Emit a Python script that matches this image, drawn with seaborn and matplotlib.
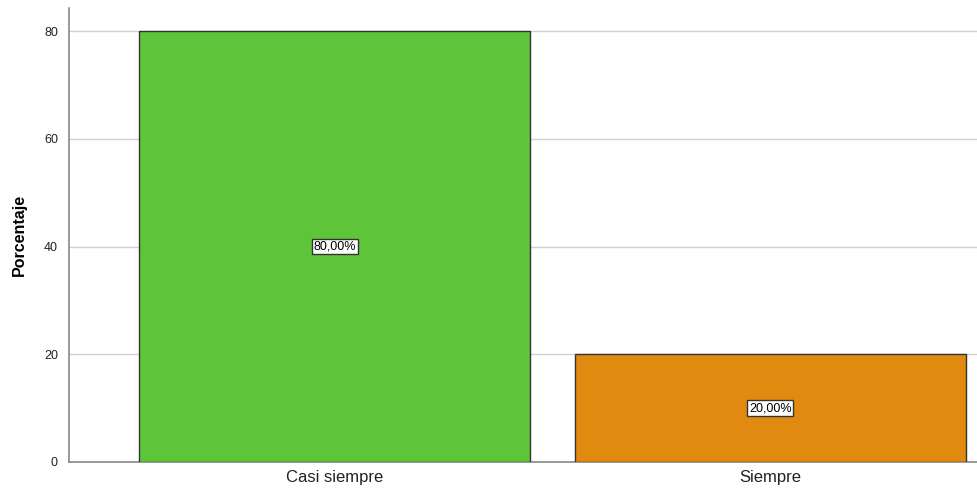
import matplotlib
matplotlib.use('Agg')
import matplotlib.pyplot as plt
import seaborn as sns
import pandas as pd

categorias = ['Casi siempre', 'Siempre']
porcentajes = [80.0, 20.0]
etiquetas = ['80,00%', '20,00%']
colores = ['#5EC43A', '#E08A10']

df = pd.DataFrame({'Categoria': categorias, 'Porcentaje': porcentajes})

sns.set_style('white')
plt.rcParams['font.family'] = ['Liberation Sans', 'DejaVu Sans']

fig = plt.figure(figsize=(9.77, 4.93), dpi=100)
ax = fig.add_axes([69 / 977, 31 / 493, 908 / 977, 454 / 493])

sns.barplot(data=df, x='Categoria', y='Porcentaje', hue='Categoria', palette=colores,
            saturation=1, width=0.898, edgecolor='#333333', linewidth=1, legend=False,
            ax=ax, zorder=3)

# porcentajes en el centro de cada barra
for i, (v, t) in enumerate(zip(porcentajes, etiquetas)):
    ax.text(i, v / 2, t, ha='center', va='center', fontsize=9, color='black', zorder=5,
            bbox=dict(boxstyle='square,pad=0.15', facecolor='white', edgecolor='#333333', linewidth=1))

ax.set_xlim(-0.61, 1.475)
ax.set_ylim(0, 84.3)
ax.set_yticks([0, 20, 40, 60, 80])
ax.yaxis.grid(True, color='#d0d0d0', linewidth=1, zorder=0)
ax.set_axisbelow(True)

for s in ['top', 'right']:
    ax.spines[s].set_visible(False)
for s in ['left', 'bottom']:
    ax.spines[s].set_color('#888888')
    ax.spines[s].set_linewidth(1.2)

ax.tick_params(axis='y', length=0, labelsize=9, colors='#222222', pad=8)
ax.tick_params(axis='x', length=0, labelsize=12, colors='#222222', pad=6)
ax.set_xlabel('')
ax.set_ylabel('Porcentaje', fontsize=11.5, fontweight='bold', color='black', labelpad=12)

plt.savefig('out.png', dpi=100, facecolor='white')
